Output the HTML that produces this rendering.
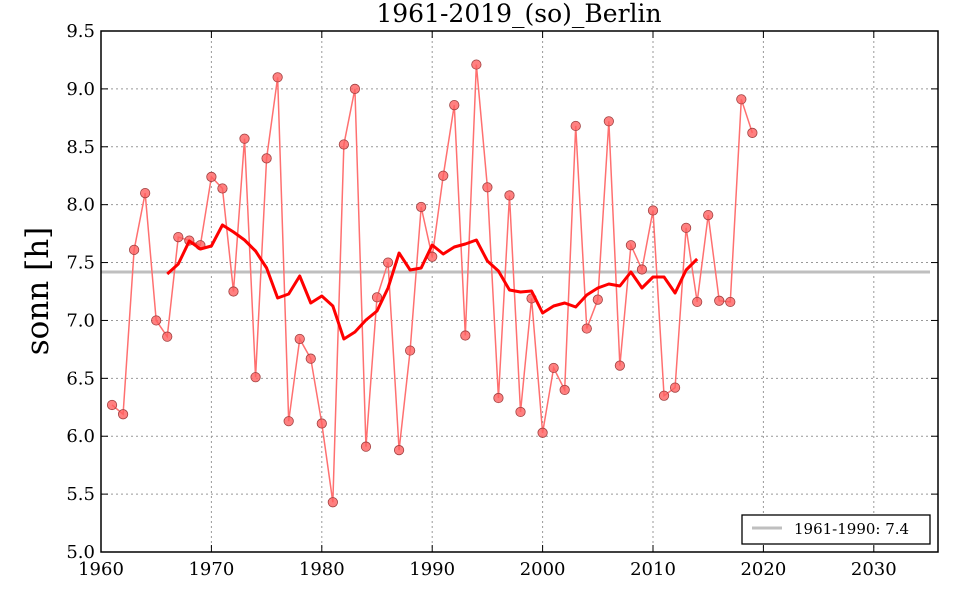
<!DOCTYPE html>
<html><head><style>body{margin:0;background:#fff;}svg{display:block;font-family:"DejaVu Serif","Liberation Serif",serif;}</style></head>
<body>
<svg id="s" width="960" height="600" xmlns="http://www.w3.org/2000/svg">
<rect width="960" height="600" fill="#fff"/>
<g id="grid" stroke="#999" stroke-width="1" stroke-dasharray="2,3"></g>
<line x1="101" y1="272" x2="930" y2="272" stroke="#bfbfbf" stroke-width="3"/>
<polyline id="raw" fill="none" stroke="#ff7070" stroke-width="1.5"/>
<g id="dots"></g>
<polyline id="ma" fill="none" stroke="#ff0000" stroke-width="3" stroke-linejoin="round"/>
<rect x="101" y="31" width="837" height="521" fill="none" stroke="#000" stroke-width="1.5"/>
<g id="ticks" font-size="18" fill="#000"></g>
<text x="519" y="22" text-anchor="middle" font-size="25">1961-2019_(so)_Berlin</text>
<text transform="translate(48,291) rotate(-90)" text-anchor="middle" font-size="31">sonn [h]</text>
<rect x="742" y="515" width="188" height="29" fill="#fff" stroke="#000" stroke-width="1.3"/>
<line x1="752" y1="528" x2="782" y2="528" stroke="#bfbfbf" stroke-width="3"/>
<text x="794" y="534" font-size="15">1961-1990: 7.4</text>
</svg>
<script>
var NS="http://www.w3.org/2000/svg";
function X(y){return 101+(y-1960)*11.04}
function Y(v){return 31+(9.5-v)*115.78}
function el(t,a,p){var e=document.createElementNS(NS,t);for(var k in a)e.setAttribute(k,a[k]);p.appendChild(e);return e}
var g=document.getElementById('grid'),tk=document.getElementById('ticks');
for(var y=1960;y<=2030;y+=10){var x=X(y);if(y>1960)el('line',{x1:x,y1:31,x2:x,y2:552},g);
el('line',{x1:x,y1:552,x2:x,y2:545,stroke:'#000'},tk);el('line',{x1:x,y1:31,x2:x,y2:38,stroke:'#000'},tk);
var t=el('text',{x:x,y:575,'text-anchor':'middle'},tk);t.textContent=y;}
for(var i=0;i<=9;i++){var v=5+i*0.5,yy=Y(v);if(i>0&&i<9)el('line',{x1:101,y1:yy,x2:938,y2:yy},g);
el('line',{x1:101,y1:yy,x2:108,y2:yy,stroke:'#000'},tk);el('line',{x1:938,y1:yy,x2:931,y2:yy,stroke:'#000'},tk);
var t=el('text',{x:95,y:yy+6,'text-anchor':'end'},tk);t.textContent=v.toFixed(1);}
var d=[6.27,6.19,7.61,8.10,7.00,6.86,7.72,7.69,7.65,8.24,8.14,7.25,8.57,6.51,8.40,9.10,6.13,6.84,6.67,6.11,5.43,8.52,9.00,5.91,7.20,7.50,5.88,6.74,7.98,7.55,8.25,8.86,6.87,9.21,8.15,6.33,8.08,6.21,7.19,6.03,6.59,6.40,8.68,6.93,7.18,8.72,6.61,7.65,7.44,7.95,6.35,6.42,7.80,7.16,7.91,7.17,7.16,8.91,8.62];
var pts=[],dg=document.getElementById('dots');
d.forEach(function(v,i){var x=X(1961+i),y=Y(v);pts.push(x+','+y);el('circle',{cx:x,cy:y,r:4.7,fill:'#ff6060','fill-opacity':0.8,stroke:'#a04040','stroke-width':0.8},dg);});
document.getElementById('raw').setAttribute('points',pts.join(' '));
var m=[274,264,241,249,246,225,232,240,251,268,298,294,276,303,296,306,339,332,320,311,288,253,270,268,245,254,247,244,240,261,271,290,292,291,313,306,303,307,295,288,284,286,272,288,277,277,293,270,259];
document.getElementById('ma').setAttribute('points',m.map(function(y,i){return X(1966+i)+','+y}).join(' '));
</script>
</body></html>
